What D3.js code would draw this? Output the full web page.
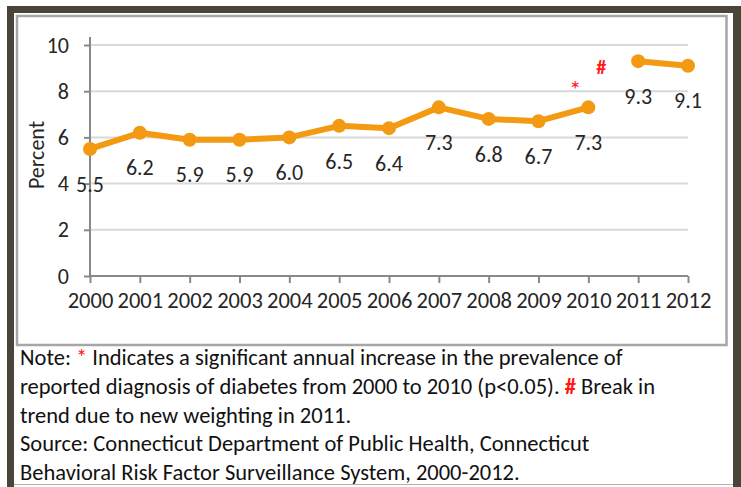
<!DOCTYPE html>
<html><head><meta charset="utf-8">
<script src="https://cdn.jsdelivr.net/npm/d3@7"></script>
<style>body{margin:0;background:#fff;overflow:hidden} svg{display:block}</style>
</head><body><svg id="c" width="741" height="487"></svg>
<script>
const years = [2000,2001,2002,2003,2004,2005,2006,2007,2008,2009,2010,2011,2012];
const values = [5.5,6.2,5.9,5.9,6.0,6.5,6.4,7.3,6.8,6.7,7.3,9.3,9.1];
const valueLabels = ["5.5","6.2","5.9","5.9","6.0","6.5","6.4","7.3","6.8","6.7","7.3","9.3","9.1"];
const breakYear = 2011;           // new weighting -> line is broken here
const yTicks = [0,2,4,6,8,10];
const yLabel = "Percent";
const markStar = {year: 2010, text: "*"};
const markHash = {year: 2010.5, text: "#"};
const noteLines = [
  [["Note: ",false],["* ",true],["Indicates a significant annual increase in the prevalence of",false]],
  [["reported diagnosis of diabetes from 2000 to 2010 (p<0.05). ",false],["# ",true],["Break in",false]],
  [["trend due to new weighting in 2011.",false]],
  [["Source: Connecticut Department of Public Health, Connecticut",false]],
  [["Behavioral Risk Factor Surveillance System, 2000-2012.",false]]
];

const FONT = "Carlito, Calibri, Lato, sans-serif";
const svg = d3.select("#c");
const dark = "#4a4538", orange = "#f39a12", red = "#ff1a1a", ink = "#262626";

// frame
svg.append("rect").attr("x",7).attr("y",6).attr("width",760).attr("height",500).attr("fill",dark);
svg.append("rect").attr("x",14).attr("y",13).attr("width",719).attr("height",490).attr("fill","#fff");
svg.append("line").attr("x1",14).attr("x2",733).attr("y1",484.5).attr("y2",484.5).attr("stroke","#b0b0b0").attr("stroke-width",1);
svg.append("rect").attr("x",17).attr("y",16).attr("width",709.5).attr("height",329)
  .attr("fill","#fff").attr("stroke","#a6a6a6").attr("stroke-width",2.5);

const x = d3.scaleLinear().domain([2000,2012]).range([90,688]);
const y = d3.scaleLinear().domain([0,10]).range([276,45]);

// gridlines
svg.append("g").selectAll("line").data(yTicks.filter(d=>d>0)).join("line")
  .attr("x1",x(2000)).attr("x2",x(2012)).attr("y1",d=>y(d)).attr("y2",d=>y(d))
  .attr("stroke","#d9d9d9").attr("stroke-width",2);

// y axis
const yAxis = svg.append("g").attr("transform",`translate(${x(2000)},0)`)
  .call(d3.axisLeft(y).tickValues(yTicks).tickSize(6).tickPadding(15).tickFormat(d3.format("d")));
yAxis.select(".domain").attr("stroke","#888").attr("stroke-width",2).attr("d",`M-0,${y(10)-8}V${y(0)}`);
yAxis.selectAll(".tick line").attr("stroke","#888").attr("stroke-width",2);
yAxis.selectAll(".tick text").attr("fill",ink).attr("font-family",FONT).attr("font-size",22);

// x axis
const xAxis = svg.append("g").attr("transform",`translate(0,${y(0)})`)
  .call(d3.axisBottom(x).tickValues(years).tickSize(7).tickPadding(9).tickFormat(d3.format("d")));
xAxis.select(".domain").attr("stroke","#888").attr("stroke-width",2).attr("d",`M${x(2000)},0H${x(2012)}`);
xAxis.selectAll(".tick line").attr("stroke","#888").attr("stroke-width",2);
xAxis.selectAll(".tick text").attr("fill",ink).attr("font-family",FONT).attr("font-size",22.5);

// y label
svg.append("text").attr("transform",`translate(44,155) rotate(-90)`).attr("text-anchor","middle")
  .attr("font-family",FONT).attr("font-size",22).attr("fill",ink).text(yLabel);

// data
const pts = years.map((yr,i)=>({yr, v: values[i], lab: valueLabels[i]}));
const segs = [pts.filter(p=>p.yr<breakYear), pts.filter(p=>p.yr>=breakYear)];
const line = d3.line().x(d=>x(d.yr)).y(d=>y(d.v));
svg.append("g").selectAll("path").data(segs).join("path")
  .attr("d",line).attr("fill","none").attr("stroke",orange).attr("stroke-width",6).attr("stroke-linejoin","round");
svg.append("g").selectAll("circle").data(pts).join("circle")
  .attr("cx",d=>x(d.yr)).attr("cy",d=>y(d.v)).attr("r",7).attr("fill",orange);
svg.append("g").selectAll("text").data(pts).join("text")
  .attr("x",d=>x(d.yr)).attr("y",d=>y(d.v)+35).attr("dy","0.35em").attr("text-anchor","middle")
  .attr("font-family",FONT).attr("font-size",22).attr("fill",ink).text(d=>d.lab);

// markers
svg.append("text").attr("x",x(markStar.year)-13).attr("y",y(7.3)-18).attr("dy","0.35em").attr("text-anchor","middle")
  .attr("font-family",FONT).attr("font-size",25).attr("fill",red).text(markStar.text);
svg.append("text").attr("x",x(markHash.year)-12).attr("y",67).attr("dy","0.35em").attr("text-anchor","middle")
  .attr("font-family",FONT).attr("font-weight","bold").attr("font-size",20).attr("fill",red).text(markHash.text);

// notes
const nt = svg.append("g").attr("font-family",FONT).attr("font-size",22.5).attr("fill","#111");
noteLines.forEach((ln,i)=>{
  const t = nt.append("text").attr("x",20).attr("y",365 + i*28.8);
  ln.forEach(([s,isRed])=>{
    const ts = t.append("tspan").text(s);
    if(isRed) ts.attr("fill",red).attr("font-weight", s.startsWith("#")?"bold":null);
  });
});
</script></body></html>
